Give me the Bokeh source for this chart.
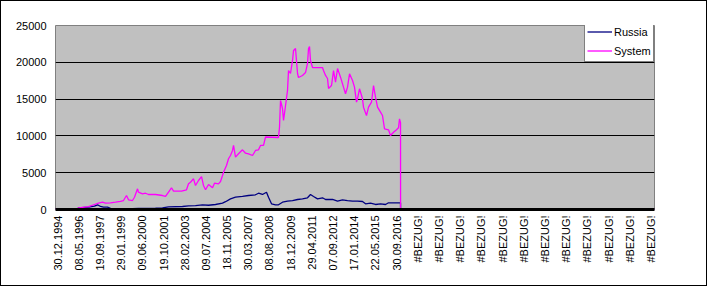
import math
from bokeh.plotting import figure
from bokeh.models import Range1d, FixedTicker, Legend, LegendItem
from bokeh.embed import file_html
from bokeh.resources import INLINE

# ---- data (row index of the daily category axis, value) ----
system_rows = [0, 369, 385, 553, 653, 720, 787, 838, 921, 1005, 1089, 1139, 1189, 1223,
               1290, 1323, 1374, 1390, 1457, 1508, 1558, 1675, 1792, 1843, 1893, 1943,
               1977, 2111, 2194, 2228, 2261, 2312, 2345, 2395, 2446, 2479, 2513, 2563,
               2630, 2663, 2730, 2764, 2797, 2814, 2864, 2898, 2931, 2965, 2982, 3015,
               3065, 3132, 3183, 3233, 3300, 3350, 3400, 3434, 3484, 3518, 3735, 3752,
               3769, 3802, 3819, 3853, 3886, 3903, 3936, 3970, 3987, 4020, 4054, 4070,
               4137, 4188, 4221, 4238, 4255, 4271, 4305, 4472, 4489, 4523, 4556, 4573,
               4623, 4657, 4690, 4724, 4774, 4824, 4858, 4891, 4925, 4975, 5008, 5042,
               5059, 5092, 5142, 5159, 5209, 5243, 5293, 5327, 5360, 5394, 5444, 5477,
               5511, 5578, 5611, 5662, 5712, 5745, 5762, 5779, 5780, 10033]
system_vals = [100, 100, 230, 400, 680, 860, 990, 860, 910, 990, 1090, 1220, 1900, 1320,
               1220, 1670, 2810, 2350, 2130, 2210, 2040, 2040, 1900, 1770, 2350, 2950,
               2490, 2490, 2680, 3490, 3710, 4170, 3260, 3940, 4480, 3260, 2680, 3400,
               2950, 3570, 3490, 3800, 4620, 5070, 5980, 6890, 7340, 8020, 8700, 7110,
               7570, 8110, 7650, 7570, 7340, 8020, 8110, 8700, 8700, 9850, 9780, 11180,
               14810, 13720, 12090, 14130, 16170, 18880, 18480, 20250, 21600, 21870, 18480, 17930,
               18210, 18610, 19840, 21870, 22150, 20250, 19290, 19290, 18880, 18210, 17800, 16440,
               16850, 18880, 17300, 19160, 17980, 16620, 15720, 16620, 18440, 17530, 16620, 14580,
               15080, 16400, 15040, 13900, 12770, 13900, 14580, 16850, 15260, 13900, 13220, 12770,
               10960, 10830, 10050, 10500, 10830, 11100, 12320, 11800, 0, 0]

russia_rows = [0, 369, 385, 553, 653, 704, 754, 804, 871, 921, 972, 1055, 1122, 1290,
               1390, 1558, 1675, 1792, 1893, 2127, 2228, 2345, 2462, 2563, 2680, 2797,
               2848, 2931, 3015, 3132, 3233, 3350, 3400, 3467, 3534, 3568, 3618, 3685,
               3735, 3802, 3886, 3970, 4054, 4137, 4221, 4271, 4322, 4389, 4472, 4523,
               4640, 4724, 4807, 4891, 4975, 5059, 5142, 5193, 5276, 5360, 5444, 5528,
               5578, 5745, 5779, 5780, 10033]
russia_vals = [50, 50, 230, 310, 450, 640, 410, 310, 310, 140, 40, 0, 40, 100,
               140, 140, 180, 230, 370, 410, 500, 540, 640, 580, 680, 860,
               1060, 1450, 1670, 1770, 1900, 2000, 2210, 2040, 2350, 1670, 770, 640,
               640, 990, 1130, 1220, 1360, 1450, 1590, 2040, 1770, 1450, 1590, 1360,
               1360, 1130, 1320, 1220, 1130, 1130, 1090, 770, 860, 680, 770, 680,
               910, 910, 910, 0, 0]

date_labels = ["30.12.1994", "08.05.1996", "19.09.1997", "29.01.1999", "09.06.2000",
               "19.10.2001", "28.02.2003", "09.07.2004", "18.11.2005", "30.03.2007",
               "08.08.2008", "18.12.2009", "29.04.2011", "07.09.2012", "17.01.2014",
               "22.05.2015", "30.09.2016"]
error_labels = ["#BEZUG!"] * 12
x_labels = date_labels + error_labels
label_step = 355
first_label_row = 34
y_ticks = [0, 5000, 10000, 15000, 20000, 25000]

FONT = "Liberation Sans"

p = figure(width=707, height=286, output_backend="svg", toolbar_location=None,
           x_range=Range1d(0, 10033), y_range=Range1d(0, 25000),
           min_border_left=54, min_border_right=54, min_border_top=24, min_border_bottom=78)
p.styles = {"border": "1px solid black"}
p.background_fill_color = "#C0C0C0"
p.border_fill_color = "white"
p.outline_line_color = "#808080"
p.outline_line_width = 1

r_russia = p.line(russia_rows, russia_vals, line_color="#000080", line_width=1.3)
r_system = p.line(system_rows, system_vals, line_color="#FF00FF", line_width=1.3)

# grid
p.xgrid.grid_line_color = None
p.ygrid.ticker = FixedTicker(ticks=[t for t in y_ticks if 0 < t < 25000])
p.ygrid.grid_line_color = "black"
p.ygrid.grid_line_width = 1

# y axis
p.yaxis.ticker = FixedTicker(ticks=y_ticks)
p.yaxis.axis_line_color = None
p.yaxis.major_tick_line_color = None
p.yaxis.minor_tick_line_color = None
p.yaxis.major_tick_out = 0
p.yaxis.major_label_standoff = 9
p.yaxis.major_label_text_font = FONT
p.yaxis.major_label_text_font_size = "11px"
p.yaxis.major_label_text_color = "black"

# x axis
tick_rows = [first_label_row + i * label_step for i in range(len(x_labels))]
p.xaxis.ticker = FixedTicker(ticks=tick_rows)
p.xaxis.major_label_overrides = {t: lab for t, lab in zip(tick_rows, x_labels)}
p.xaxis.major_label_orientation = math.pi / 2
p.xaxis.axis_line_color = "black"
p.xaxis.axis_line_width = 3
p.xaxis.major_tick_line_color = None
p.xaxis.minor_tick_line_color = None
p.xaxis.major_tick_out = 0
p.xaxis.major_label_standoff = 6
p.xaxis.major_label_text_font = FONT
p.xaxis.major_label_text_font_size = "11px"
p.xaxis.major_label_text_color = "black"

legend = Legend(items=[LegendItem(label="Russia", renderers=[r_russia]),
                       LegendItem(label="System", renderers=[r_system])],
                location=(529, 147))
legend.background_fill_color = "white"
legend.background_fill_alpha = 1
legend.border_line_color = "black"
legend.border_line_width = 1
legend.margin = 0
legend.padding = 2
legend.spacing = 2
legend.glyph_width = 25
legend.glyph_height = 17
legend.label_height = 17
legend.label_standoff = 2
legend.label_text_font = FONT
legend.label_text_font_size = "11px"
legend.label_text_color = "black"
p.add_layout(legend)

open("out.html", "w").write(file_html(p, INLINE))
